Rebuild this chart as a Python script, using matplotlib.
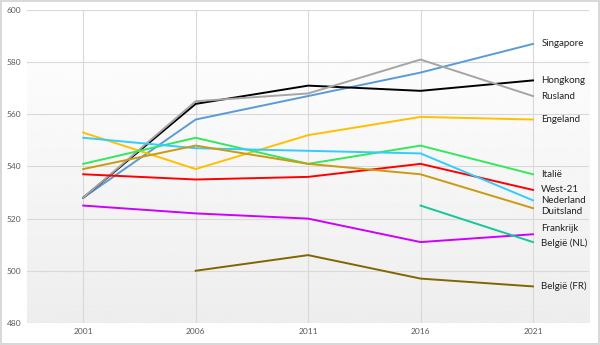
import numpy as np
import matplotlib.pyplot as plt

years = ['2001', '2006', '2011', '2016', '2021']
nan = np.nan

countries = ['Singapore', 'Hongkong', 'Rusland', 'Engeland', 'Italië', 'West-21',
             'Nederland', 'Duitsland', 'Frankrijk', 'België (NL)', 'België (FR)']
singapore = [528, 558, 567, 576, 587]
hongkong = [528, 564, 571, 569, 573]
rusland = [528, 565, 568, 581, 567]
engeland = [553, 539, 552, 559, 558]
italie = [541, 551, 541, 548, 537]
west21 = [537, 535, 536, 541, 531]
nederland = [551, 547, 546, 545, 527]
duitsland = [539, 548, 541, 537, 524]
frankrijk = [525, 522, 520, 511, 514]
belgie_nl = [nan, nan, nan, 525, 511]
belgie_fr = [nan, 500, 506, 497, 494]

series = [singapore, hongkong, rusland, engeland, italie, west21,
          nederland, duitsland, frankrijk, belgie_nl, belgie_fr]
colors = ['#5B9BD5', '#000000', '#A5A5A5', '#FFC000', '#33E85A', '#FF0000',
          '#33CCFF', '#CC9A10', '#CC00FF', '#10C898', '#806600']
# vertical nudge (points) for labels that would otherwise collide
label_dy = [0, 0, 0, 0, 0, 0, 0, -2.5, 4, -1, 0]

plt.rcParams['font.family'] = ['Lato', 'DejaVu Sans']

fig = plt.figure(figsize=(6, 3.45), dpi=100)
fig.patch.set_edgecolor('#D9D9D9')
fig.patch.set_linewidth(1.5)
ax = fig.add_axes([0.045, 0.064, 0.937, 0.907])

# plot area fades from white to light grey
grad = np.linspace(1.0, 0.93, 256).reshape(-1, 1)
grad[:40] = 1.0
ax.imshow(grad, extent=[0, 1, 0, 1], transform=ax.transAxes, cmap='gray',
          vmin=0, vmax=1, aspect='auto', zorder=0)

x = np.arange(len(years))
for name, vals, c, dy in zip(countries, series, colors, label_dy):
    ax.plot(x, vals, color=c, lw=1.4, zorder=3)
    ax.annotate(name, (x[-1], vals[-1]), xytext=(6, dy), textcoords='offset points',
                va='center', ha='left', fontsize=7, color='#222222',
                annotation_clip=False)

ax.set_xlim(-0.5, 4.5)
ax.set_ylim(480, 600)
ax.set_yticks(range(480, 601, 20))
ax.set_xticks(x)
ax.set_xticklabels(years)
ax.grid(True, color='#D9D9D9', lw=0.8, zorder=1)
ax.set_axisbelow(True)
for s in ax.spines.values():
    s.set_visible(False)
ax.tick_params(length=0, labelsize=6, colors='#595959', pad=4)

fig.savefig('out.png', dpi=100)
